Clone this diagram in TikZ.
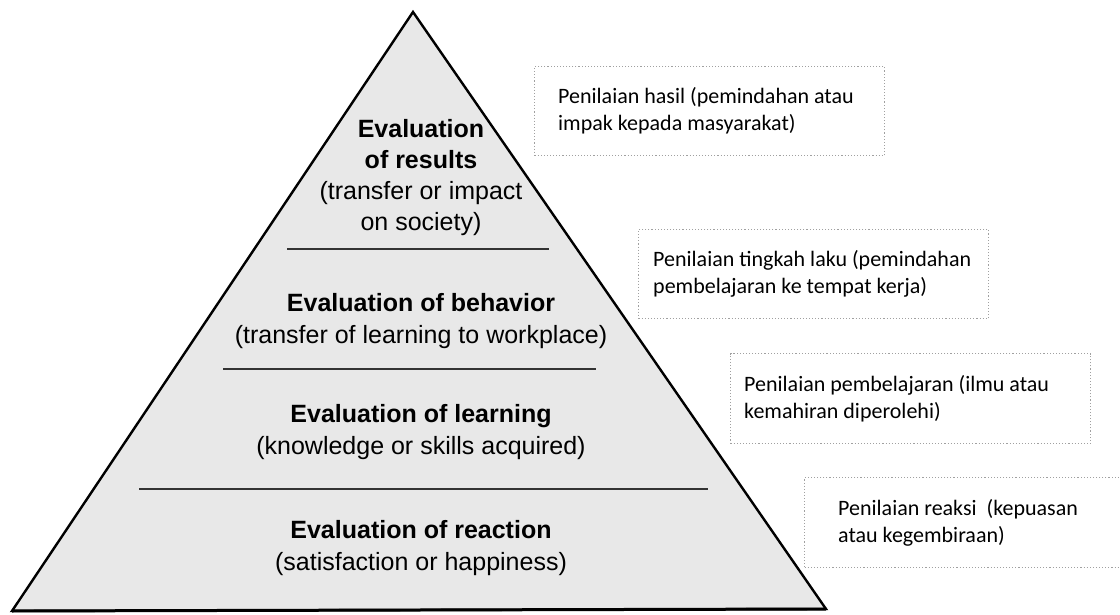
\documentclass[tikz,border=0pt]{standalone}
\usepackage{fontspec}
\newfontfamily\arialf{Liberation Sans}
\newfontfamily\calibf{Carlito}
\usetikzlibrary{calc}
\definecolor{pyrfill}{HTML}{E8E8E8}
\definecolor{notedot}{HTML}{A0A0A0}
\begin{document}
\begin{tikzpicture}[x=1pt,y=-1pt,
  layer/.style={font=\arialf\fontsize{25}{32}\selectfont, align=center, inner sep=0pt},
  notebox/.style={draw=notedot, dotted, line width=1.1pt, anchor=north west, inner sep=0pt},
  notetext/.style={font=\calibf\fontsize{22}{27}\selectfont, align=left, anchor=west, inner sep=0pt},
  divider/.style={draw=black!80, line width=1.8pt},
  pyr/.style={fill=pyrfill, draw=black, line width=2.4pt, line join=miter},
]
\useasboundingbox (0,0) rectangle (1120,615);
% pyramid
\coordinate (apex) at (413,12);
\coordinate (bl) at (12,611);
\coordinate (br) at (826,609);
\path[pyr] (apex) -- (br) -- (bl) -- cycle;
\draw[line width=3pt] (bl) -- (br);
% dividers
\coordinate (d1l) at (287,249); \coordinate (d1r) at (549,249);
\coordinate (d2l) at (223,369); \coordinate (d2r) at (596,369);
\coordinate (d3l) at (139,489); \coordinate (d3r) at (708,489);
\draw[divider] (d1l) -- (d1r);
\draw[divider] (d2l) -- (d2r);
\draw[divider] (d3l) -- (d3r);
% layer texts
\node[layer, font=\arialf\fontsize{25}{31}\selectfont] (results) at (421,178)
  {\textbf{Evaluation}\\\textbf{of results}\\(transfer or impact\\on society)};
\node[layer] (behavior) at (421,321)
  {\textbf{Evaluation of behavior}\\(transfer of learning to workplace)};
\node[layer] (learning) at (421,432)
  {\textbf{Evaluation of learning}\\(knowledge or skills acquired)};
\node[layer] (reaction) at (421,548)
  {\textbf{Evaluation of reaction}\\(satisfaction or happiness)};
% note boxes
\node[notebox, minimum width=350pt, minimum height=89pt] (n1) at (534,66) {};
\node[notebox, minimum width=350pt, minimum height=89pt] (n2) at (638,229) {};
\node[notebox, minimum width=360pt, minimum height=90pt] (n3) at (730,353) {};
\node[notebox, minimum width=340pt, minimum height=90pt] (n4) at (804,477) {};
% note texts
\node[notetext] (t1) at ($(n1.west)+(24,0)$)
  {Penilaian hasil (pemindahan atau\\impak kepada masyarakat)};
\node[notetext] (t2) at ($(n2.west)+(15,0)$)
  {Penilaian tingkah laku (pemindahan\\pembelajaran ke tempat kerja)};
\node[notetext] (t3) at ($(n3.west)+(14,0)$)
  {Penilaian pembelajaran (ilmu atau\\kemahiran diperolehi)};
\node[notetext] (t4) at ($(n4.west)+(34,0)$)
  {Penilaian reaksi\ \ (kepuasan\\atau kegembiraan)};
\end{tikzpicture}
\end{document}
